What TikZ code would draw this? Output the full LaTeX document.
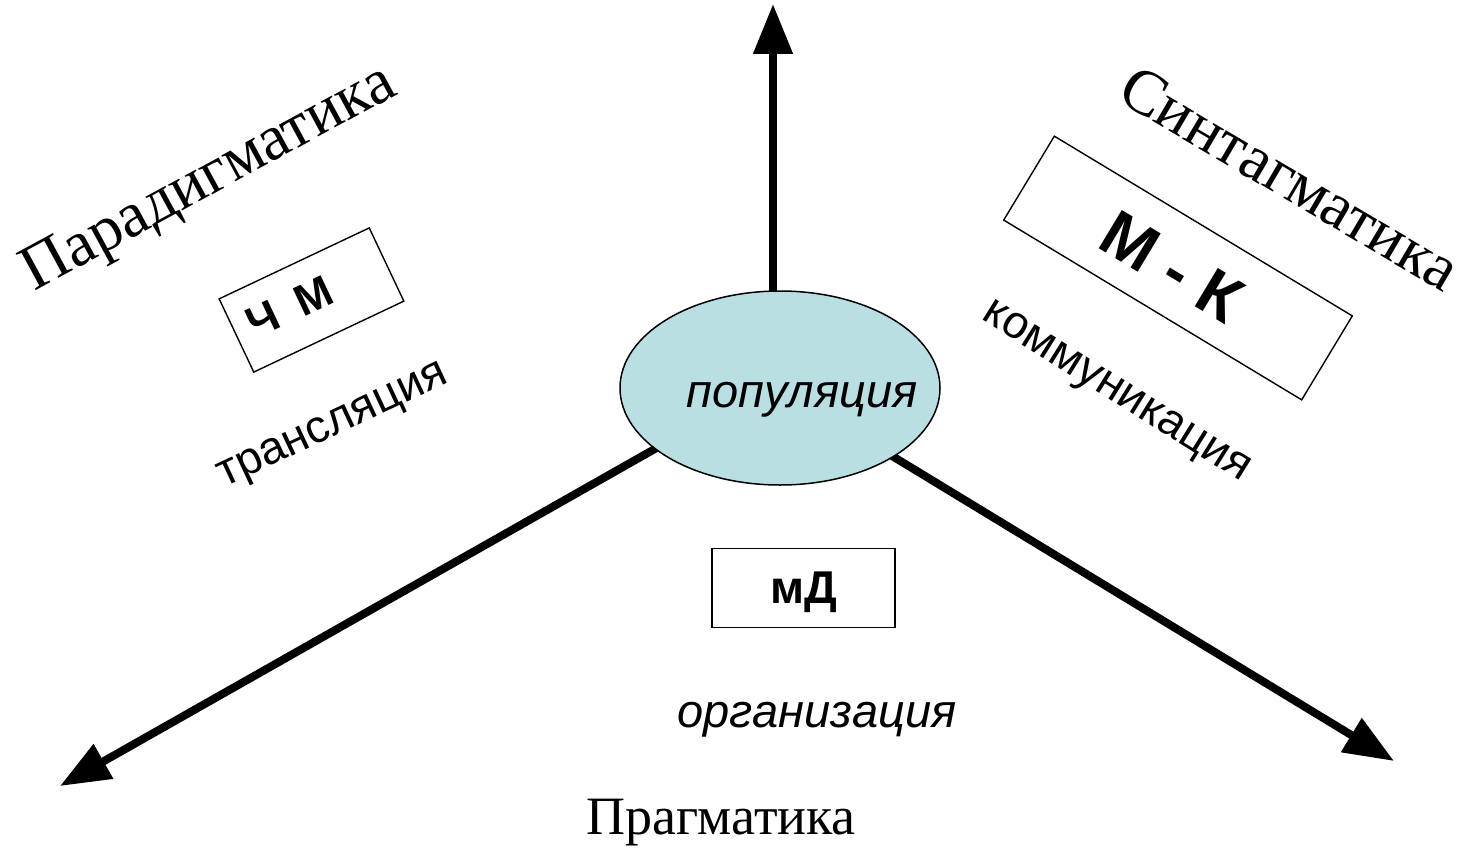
\documentclass[tikz,border=0pt]{standalone}
\usepackage{fontspec}
\setmainfont{Liberation Serif}
\setsansfont{Liberation Sans}
\usetikzlibrary{arrows.meta,shapes.geometric}
\definecolor{ellfill}{RGB}{185,223,227}
\begin{document}
\begin{tikzpicture}[x=1pt,y=-1pt,
  axisarrow/.style={line width=8pt, -{Triangle[length=50pt,width=38pt]}},
  frame/.style={draw, line width=1.4pt, rectangle, inner sep=0pt},
  titletext/.style={font=\fontsize{64}{70}\selectfont\rmfamily, inner sep=0pt},
  sanstext/.style={font=\fontsize{46}{50}\selectfont\sffamily, inner sep=0pt},
  boldtext/.style={font=\fontsize{#1}{#1}\selectfont\sffamily\bfseries, inner sep=0pt},
  italtext/.style={font=\fontsize{47}{50}\selectfont\sffamily\itshape, inner sep=0pt}
]
\useasboundingbox (0,0) rectangle (1466,848);

% axes (drawn first, the ellipse covers their inner ends)
\coordinate (centre) at (780,388);
\coordinate (lstart) at (720,412);
\coordinate (rstart) at (800,400);
\coordinate (tipup) at (773,4);
\coordinate (tipleft) at (60,786);
\coordinate (tipright) at (1394,761);
\draw[axisarrow] (tipup |- centre) -- (tipup);
\draw[axisarrow] (lstart) -- (tipleft);
\draw[axisarrow] (rstart) -- (tipright);

% centre ellipse
\node[ellipse, draw, line width=1.5pt, fill=ellfill, minimum width=320pt, minimum height=194pt, inner sep=0pt] (ell) at (centre) {};
\node[italtext, anchor=base] (pop) at (802,407) {популяция};

% titles
\node[titletext, rotate=28.5] (parad) at (210,180) {Парадигматика};
\node[titletext, rotate=-30.5] (sint) at (1290,178) {Синтагматика};
\node[font=\fontsize{54}{58}\selectfont\rmfamily, inner sep=0pt, anchor=base] (pragm) at (721,834) {Прагматика};

% boxes
\node[frame, rotate=25.3, minimum width=166pt, minimum height=81pt] (boxchm) at (311.5,300) {};
\node[boldtext=44, rotate=25.3] (chm) at (290,307) {Ч\hspace{0.5em}М};
\node[frame, rotate=-31.1, minimum width=348pt, minimum height=98pt] (boxmk) at (1178,268) {};
\node[boldtext=65, rotate=-31.1] (mk) at (1172,267) {М - К};
\node[frame, minimum width=183pt, minimum height=79pt] (boxmd) at (803.3,588) {};
\node[boldtext=46, anchor=base] (md) at (804,603) {мД};

% labels
\node[sanstext, rotate=25] (transl) at (334,428) {трансляция};
\node[sanstext, rotate=-32] (komm) at (1115,394) {коммуникация};
\node[italtext, anchor=base] (org) at (817,727) {организация};
\end{tikzpicture}
\end{document}
